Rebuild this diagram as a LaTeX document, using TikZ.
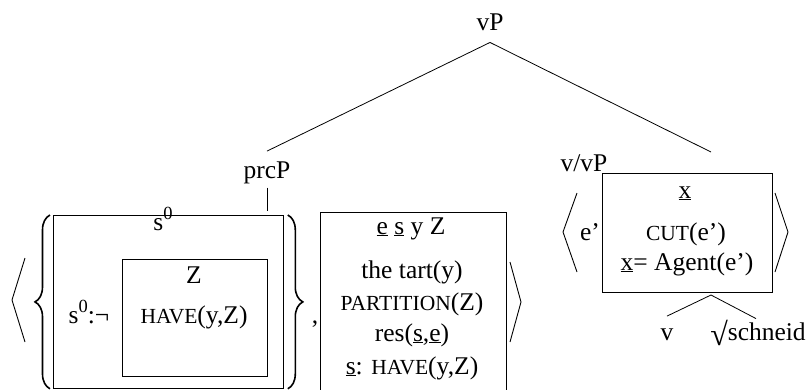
\documentclass[tikz,border=0pt]{standalone}
\usepackage{fontspec}
\setmainfont{Liberation Serif}
\usetikzlibrary{decorations.pathreplacing}
% raised superscript digit, faked small capitals, large radical sign
\newcommand\supz[1]{\raisebox{0.42em}{\fontsize{18.5}{18.5}\selectfont #1}}
\newcommand\fsc[1]{{\fontsize{21.5}{21.5}\selectfont #1}}
\newcommand\rad{\raisebox{-0.2em}{\fontsize{32}{32}\selectfont √}}
\begin{document}
\begin{tikzpicture}[x=1pt,y=-1pt,
  font=\fontsize{25.5}{30}\selectfont,
  lbl/.style={inner sep=0pt, anchor=base},
  box/.style={draw, line width=0.8pt, inner sep=0pt, anchor=north west},
  edge/.style={line width=0.8pt},
  delim/.style={line width=0.9pt},
  curly/.style={line width=1.6pt, decorate, decoration={brace, amplitude=15pt}}]
\useasboundingbox (0,0) rectangle (810,389);
\clip (0,0) rectangle (810,389);

% ---- tree labels
\node[lbl] (vP)   at (490,30)  {vP};
\node[lbl] (prcP) at (267,178) {prcP};
\node[lbl] (vvP)  at (584,171) {v/vP};
\coordinate (vvPhook) at (711,152);

% ---- left DRS: outer box with nested negated box
\node[box, minimum width=230pt, minimum height=173pt] (outer) at (53,215) {};
\node[box, minimum width=145pt, minimum height=117pt] (inner) at (122,259) {};
\node[lbl] (s0top) at (163,230) {s\supz{0}};
\node[lbl] (neg)   at (89,323)  {s\supz{0}:¬};
\node[lbl] (Zref)  at (194,283) {Z};
\node[lbl] (have)  at (194,323) {\fsc{HAVE}(y,Z)};
\node[lbl] (comma) at (315,323) {,};

% ---- middle DRS
\node[box, minimum width=186pt, minimum height=200pt] (mid) at (320,212) {};
\node[lbl] (m1) at (411,234) {\underline{e} \underline{s} y Z};
\node[lbl] (m2) at (412,278) {the tart(y)};
\node[lbl] (m3) at (412,310) {\fsc{PARTITION}(Z)};
\node[lbl] (m4) at (412,341) {res(\underline{s},\underline{e})};
\node[lbl] (m5) at (412,374) {\underline{s}: \fsc{HAVE}(y,Z)};

% ---- right DRS
\node[box, minimum width=170pt, minimum height=119pt] (rbox) at (602,173) {};
\node[lbl] (xref) at (685,198) {\underline{x}};
\node[lbl] (cut)  at (686,240) {\fsc{CUT}(e')};
\node[lbl] (agt)  at (687,270) {\underline{x}= Agent(e')};
\node[lbl] (ep)   at (590,240) {e'};
\coordinate (fork) at (711,295);
\node[lbl] (v)    at (667,340) {v};
\node[lbl] (root) at (758,340) {\rad schneid};

% ---- tree branches
\draw[edge] ([yshift=-12pt]vP.south) -- ([yshift=10pt]prcP.north);
\draw[edge] ([yshift=-12pt]vP.south) -- (vvPhook);
\draw[edge] ([yshift=-4pt]prcP.south) -- ++(0,23);
\draw[edge] (fork) -- ([yshift=12pt]v.north);
\draw[edge] (fork) -- ([xshift=-2pt,yshift=1pt]root.north);

% ---- braces around the left DRS
\draw[curly] ([xshift=-3pt]outer.south west) -- ([xshift=-3pt]outer.north west);
\draw[curly] ([xshift=4pt]outer.north east) -- ([xshift=4pt]outer.south east);

% ---- angle brackets
\draw[delim] (25,258) -- (12,300) -- (25,342);
\draw[delim] (510,262) -- (521,302) -- (510,342);
\draw[delim] (577,193) -- (563,232) -- (577,272);
\draw[delim] (775,193) -- (788,232) -- (775,272);
\end{tikzpicture}
\end{document}
